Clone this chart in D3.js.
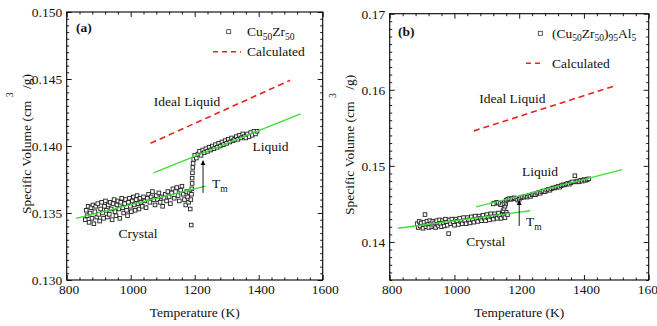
<!DOCTYPE html>
<html>
<head>
<meta charset="utf-8">
<script src="https://cdn.jsdelivr.net/npm/d3@7"></script>
<style>
  body { margin: 0; background: #fff; }
  svg { display: block; }
</style>
</head>
<body>
<svg id="chart" width="657" height="326"></svg>
<script>
// --- data (T in K, V in cm^3/g) ---
const crystalA = [
  [858,0.1345],[861,0.1352],[864,0.1348],[867,0.1355],[870,0.1343],[873,0.1350],[876,0.1354],[879,0.1346],
  [882,0.1356],[885,0.1342],[888,0.1351],[891,0.1355],[894,0.1347],[897,0.1357],[900,0.1349],[903,0.1344],
  [906,0.1353],[909,0.1358],[912,0.1350],[915,0.1346],[918,0.1355],[921,0.1359],[924,0.1352],[927,0.1347],
  [930,0.1356],[933,0.1349],[936,0.1358],[939,0.1353],[942,0.1345],[945,0.1357],[948,0.1360],[951,0.1351],
  [954,0.1348],[957,0.1356],[960,0.1359],[963,0.1353],[966,0.1346],[969,0.1358],[972,0.1361],[975,0.1354],
  [978,0.1350],[981,0.1357],[984,0.1360],[987,0.1352],[990,0.1348],[993,0.1358],[996,0.1361],[999,0.1355],
  [1002,0.1351],[1005,0.1359],[1008,0.1362],[1011,0.1356],[1014,0.1352],[1017,0.1360],[1020,0.1363],[1023,0.1357],
  [1026,0.1353],[1029,0.1361],[1032,0.1358],[1036,0.1355],[1040,0.1362],[1044,0.1359],[1048,0.1354],[1052,0.1361],
  [1056,0.1364],[1060,0.1358],[1064,0.1362],[1068,0.1366],[1072,0.1360],[1076,0.1356],[1080,0.1363],[1084,0.1360],
  [1088,0.1365],[1092,0.1358],[1096,0.1362],[1100,0.1355],[1104,0.1361],[1108,0.1364],[1112,0.1359],[1116,0.1366],
  [1120,0.1362],[1124,0.1357],[1128,0.1365],[1132,0.1368],[1136,0.1361],[1140,0.1366],[1144,0.1369],[1148,0.1363],
  [1152,0.1359],[1156,0.1367],[1160,0.1370],[1164,0.1364],[1168,0.1360],[1172,0.1356],[1175,0.1366],[1178,0.1362],
  [1181,0.1358],[1184,0.1365],[1186,0.1353],[1189,0.1341]
];
const meltA = [
  [1188,0.1360],[1190,0.1364],[1191,0.1368],[1192,0.1372],[1192,0.1376],[1193,0.1380],[1194,0.1384],[1195,0.1387],[1197,0.1390]
];
const liquidA = [
  [1200,0.1393],[1205,0.1391],[1210,0.1394],[1215,0.1396],[1220,0.1393],[1225,0.1397],[1230,0.1395],[1235,0.1398],
  [1240,0.1396],[1245,0.1399],[1250,0.1397],[1255,0.1400],[1260,0.1398],[1265,0.1401],[1270,0.1399],[1275,0.1402],
  [1280,0.1400],[1285,0.1403],[1290,0.1401],[1295,0.1404],[1300,0.1402],[1305,0.1405],[1310,0.1403],[1315,0.1406],
  [1320,0.1404],[1325,0.1405],[1330,0.1407],[1335,0.1405],[1340,0.1408],[1345,0.1406],[1350,0.1409],[1355,0.1407],
  [1360,0.1406],[1365,0.1409],[1370,0.1407],[1375,0.1410],[1380,0.1408],[1385,0.1411],[1390,0.1409],[1395,0.1411]
];
const crystalB = [
  [885,0.1424],[888,0.1419],[891,0.1427],[894,0.1421],[897,0.1425],[903,0.1418],[906,0.1426],[909,0.1436],
  [912,0.1420],[915,0.1427],[918,0.1423],[921,0.1419],[924,0.1428],[927,0.1424],[930,0.1420],[933,0.1427],
  [936,0.1422],[939,0.1425],[942,0.1419],[945,0.1428],[948,0.1423],[951,0.1421],[954,0.1429],[957,0.1424],
  [960,0.1420],[963,0.1428],[966,0.1425],[969,0.1421],[972,0.1430],[975,0.1426],[978,0.1422],[982,0.1411],
  [985,0.1429],[988,0.1424],[992,0.1430],[996,0.1426],[1000,0.1422],[1004,0.1430],[1008,0.1427],[1012,0.1423],
  [1016,0.1431],[1020,0.1427],[1024,0.1424],[1028,0.1432],[1032,0.1428],[1036,0.1424],[1040,0.1432],[1044,0.1429],
  [1048,0.1425],[1052,0.1433],[1056,0.1429],[1060,0.1426],[1064,0.1434],[1068,0.1430],[1072,0.1427],[1076,0.1434],
  [1080,0.1431],[1084,0.1428],[1088,0.1435],[1092,0.1431],[1096,0.1428],[1100,0.1436],[1104,0.1432],[1108,0.1429],
  [1112,0.1437],[1116,0.1433],[1120,0.1430],[1124,0.1437],[1128,0.1434],[1132,0.1431],[1136,0.1438],[1140,0.1434],
  [1144,0.1431],[1148,0.1438],[1152,0.1435],[1156,0.1432],[1160,0.1439],[1164,0.1436]
];
const meltB = [
  [1150,0.1441],[1153,0.1444],[1156,0.1447],[1158,0.1450],[1154,0.1452],[1148,0.1450],[1142,0.1449],[1136,0.1451],
  [1130,0.1452],[1124,0.1451],[1120,0.1450]
];
const liquidB = [
  [1160,0.1455],[1165,0.1456],[1170,0.1457],[1175,0.1456],[1180,0.1457],[1185,0.1458],[1190,0.1457],[1195,0.1455],
  [1200,0.1456],[1205,0.1458],[1210,0.1459],[1215,0.1459],[1220,0.1460],[1225,0.1459],[1230,0.1461],[1235,0.1460],
  [1240,0.1462],[1245,0.1463],[1250,0.1462],[1255,0.1464],[1260,0.1465],[1265,0.1464],[1270,0.1466],[1275,0.1467],
  [1280,0.1466],[1285,0.1468],[1290,0.1469],[1295,0.1468],[1300,0.1470],[1305,0.1471],[1310,0.1471],[1315,0.1472],
  [1320,0.1473],[1325,0.1472],[1330,0.1474],[1335,0.1475],[1340,0.1475],[1345,0.1476],[1350,0.1477],[1355,0.1476],
  [1360,0.1478],[1365,0.1479],[1372,0.1487],[1375,0.1479],[1380,0.1480],[1385,0.1479],[1390,0.1481],[1395,0.1480],
  [1400,0.1482],[1405,0.1481],[1410,0.1482],[1415,0.1483]
];

const fitCrystalA = [[829,0.1346],[1234,0.1370]];
const fitLiquidA = [[1071,0.1380],[1531,0.1424]];
const calcA = [[1062,0.1402],[1498,0.1449]];
const fitCrystalB = [[826,0.1418],[1234,0.1441]];
const fitLiquidB = [[1067,0.1446],[1518,0.1495]];
const calcB = [[1060,0.1546],[1494,0.1605]];

const tempTicks = [800, 1000, 1200, 1400, 1600];
const volTicksA = [0.130, 0.135, 0.140, 0.145, 0.150];
const volTicksB = [0.14, 0.15, 0.16, 0.17];

const FONT = "'Liberation Serif', 'Times New Roman', 'DejaVu Serif', serif";
const FS = 13.5;
const SUB = 9.5;

const svg = d3.select("#chart").attr("font-family", FONT);

// arrowhead
svg.append("defs").append("marker")
    .attr("id", "head")
    .attr("viewBox", "0 0 10 10")
    .attr("refX", 9).attr("refY", 5)
    .attr("markerWidth", 5).attr("markerHeight", 8)
    .attr("markerUnits", "userSpaceOnUse")
    .attr("orient", "auto")
  .append("path")
    .attr("d", "M0,0L10,5L0,10Z")
    .attr("fill", "#000");

const panels = [
  {
    left: 66.7, right: 322.7, top: 12, bottom: 280,
    yDomain: [0.130, 0.150], yTicks: volTicksA, yMinor: 0.0005, yFmt: d3.format(".3f"),
    points: [crystalA, meltA, liquidA],
    fits: [fitCrystalA, fitLiquidA], calc: calcA,
    arrow: [[1226, 0.1365], [1226, 0.1389]],
    tag: "(a)", tagPos: [76, 32],
    legend: { mark: [228.7, 31.7], textX: 247, dash: [213, 241], dashY: 51.7,
              label: [["Cu", 0], ["50", 1], ["Zr", 0], ["50", 1]] },
    notes: [
      { t: "Ideal Liquid", T: 1176, V: 0.1430 },
      { t: "Liquid", T: 1437, V: 0.13963 },
      { t: "Crystal", T: 1023, V: 0.13311 }
    ],
    tm: { T: 1254, V: 0.13685 },
    yTitleX: 31
  },
  {
    left: 389.7, right: 648.7, top: 13.7, bottom: 280,
    yDomain: [0.135, 0.170], yTicks: volTicksB, yMinor: 0.001, yFmt: d3.format(".2f"),
    points: [crystalB, meltB, liquidB],
    fits: [fitCrystalB, fitLiquidB], calc: calcB,
    arrow: [[1200, 0.1421], [1200, 0.14545]],
    tag: "(b)", tagPos: [398, 36],
    legend: { mark: [540.3, 33.3], textX: 552, dash: [526, 544], dashY: 63.3,
              label: [["(Cu", 0], ["50", 1], ["Zr", 0], ["50", 1], [")", 0], ["95", 1], ["Al", 0], ["5", 1]] },
    notes: [
      { t: "Ideal Liquid", T: 1179, V: 0.15832 },
      { t: "Liquid", T: 1264, V: 0.14864 },
      { t: "Crystal", T: 1097, V: 0.13943 }
    ],
    tm: { T: 1221, V: 0.14213 },
    yTitleX: 354
  }
];

panels.forEach(p => {
  const x = d3.scaleLinear().domain([800, 1600]).range([p.left, p.right]);
  const y = d3.scaleLinear().domain(p.yDomain).range([p.bottom, p.top]);
  const g = svg.append("g");

  const xMinor = d3.range(800, 1601, 40).filter(v => v % 200 !== 0);
  const yMinor = d3.range(p.yDomain[0], p.yDomain[1] + 1e-9, p.yMinor)
      .filter(v => !p.yTicks.some(t => Math.abs(t - v) < 1e-9));

  const addAxis = (axis, tx, ty, labels) => {
    const a = g.append("g").attr("transform", `translate(${tx},${ty})`).call(axis);
    a.attr("font-family", FONT).attr("font-size", FS);
    a.select(".domain").remove();
    a.selectAll("line").attr("stroke", "#000").attr("stroke-width", 0.9);
    a.selectAll("text").attr("fill", "#111");
    if (!labels) a.selectAll("text").remove();
  };

  // labels sit ~2px right of their ticks in the source; tick lines drawn separately
  addAxis(d3.axisBottom(x).tickValues(tempTicks).tickFormat(d3.format("d")).tickSize(-5).tickPadding(4), 2, p.bottom, true);
  g.select("g").selectAll("line").remove();
  addAxis(d3.axisBottom(x).tickValues(xMinor).tickSize(-2.5), 0, p.bottom, false);
  addAxis(d3.axisBottom(x).tickValues(tempTicks).tickSize(-5), 0, p.bottom, false);
  addAxis(d3.axisTop(x).tickValues(tempTicks).tickSize(-5), 0, p.top, false);
  addAxis(d3.axisTop(x).tickValues(xMinor).tickSize(-2.5), 0, p.top, false);
  addAxis(d3.axisLeft(y).tickValues(p.yTicks).tickFormat(p.yFmt).tickSize(-5).tickPadding(4.5), p.left, 0, true);
  addAxis(d3.axisLeft(y).tickValues(yMinor).tickSize(-2.5), p.left, 0, false);
  addAxis(d3.axisRight(y).tickValues(p.yTicks).tickSize(-5), p.right, 0, false);
  addAxis(d3.axisRight(y).tickValues(yMinor).tickSize(-2.5), p.right, 0, false);

  g.append("rect")
      .attr("x", p.left).attr("y", p.top)
      .attr("width", p.right - p.left).attr("height", p.bottom - p.top)
      .attr("fill", "none").attr("stroke", "#000").attr("stroke-width", 1.1);

  const line = d3.line().x(d => x(d[0])).y(d => y(d[1]));

  g.append("path").datum(p.calc).attr("d", line)
      .attr("fill", "none").attr("stroke", "#e8221c").attr("stroke-width", 1.6)
      .attr("stroke-dasharray", "6,4");

  // squares
  p.points.forEach(series => {
    g.selectAll(null).data(series).enter().append("rect")
        .attr("x", d => x(d[0]) - 1.8).attr("y", d => y(d[1]) - 1.8)
        .attr("width", 3.6).attr("height", 3.6)
        .attr("fill", "#fff").attr("stroke", "#222").attr("stroke-width", 0.9);
  });

  p.fits.forEach(f => {
    g.append("path").datum(f).attr("d", line)
        .attr("fill", "none").attr("stroke", "#3ee03a").attr("stroke-width", 1.3);
  });

  g.append("line")
      .attr("x1", x(p.arrow[0][0])).attr("y1", y(p.arrow[0][1]))
      .attr("x2", x(p.arrow[1][0])).attr("y2", y(p.arrow[1][1]))
      .attr("stroke", "#000").attr("stroke-width", 0.9)
      .attr("marker-end", "url(#head)");

  p.notes.forEach(n => {
    g.append("text").attr("x", x(n.T)).attr("y", y(n.V))
        .attr("text-anchor", "middle").attr("font-size", FS).attr("fill", "#111").text(n.t);
  });

  const tm = g.append("text").attr("x", x(p.tm.T)).attr("y", y(p.tm.V)).attr("font-size", FS).attr("fill", "#111");
  tm.append("tspan").text("T");
  tm.append("tspan").attr("font-size", SUB).attr("dy", 4).text("m");

  g.append("text").attr("x", p.tagPos[0]).attr("y", p.tagPos[1])
      .attr("font-size", FS).attr("font-weight", "bold").attr("fill", "#111").text(p.tag);

  // legend
  const L = p.legend;
  g.append("rect").attr("x", L.mark[0] - 2).attr("y", L.mark[1] - 2)
      .attr("width", 4).attr("height", 4)
      .attr("fill", "#fff").attr("stroke", "#333").attr("stroke-width", 0.8);
  const lt = g.append("text").attr("x", L.textX).attr("y", L.mark[1] + 4.5)
      .attr("font-size", FS).attr("fill", "#111");
  let prev = 0;
  L.label.forEach(([s, sub]) => {
    lt.append("tspan").attr("font-size", sub ? SUB : FS)
        .attr("dy", (sub - prev) * 3.5).text(s);
    prev = sub;
  });
  g.append("line").attr("x1", L.dash[0]).attr("x2", L.dash[1])
      .attr("y1", L.dashY).attr("y2", L.dashY)
      .attr("stroke", "#e8221c").attr("stroke-width", 1.6).attr("stroke-dasharray", "5,4");
  g.append("text").attr("x", L.textX).attr("y", L.dashY + 4.5)
      .attr("font-size", FS).attr("fill", "#111").text("Calculated");

  // axis titles
  g.append("text").attr("x", (p.left + p.right) / 2).attr("y", 317)
      .attr("text-anchor", "middle").attr("font-size", FS).attr("fill", "#111").text("Temperature (K)");
  const yt = g.append("text")
      .attr("transform", `translate(${p.yTitleX},${(p.top + p.bottom) / 2 - 2}) rotate(-90)`)
      .attr("text-anchor", "middle").attr("font-size", FS).attr("fill", "#111");
  yt.append("tspan").text("Specific Volume (cm ");
  yt.append("tspan").attr("font-size", 10).attr("dy", -18).text("3");
  yt.append("tspan").attr("dy", 18).text(" /g)");
});
</script>
</body>
</html>
